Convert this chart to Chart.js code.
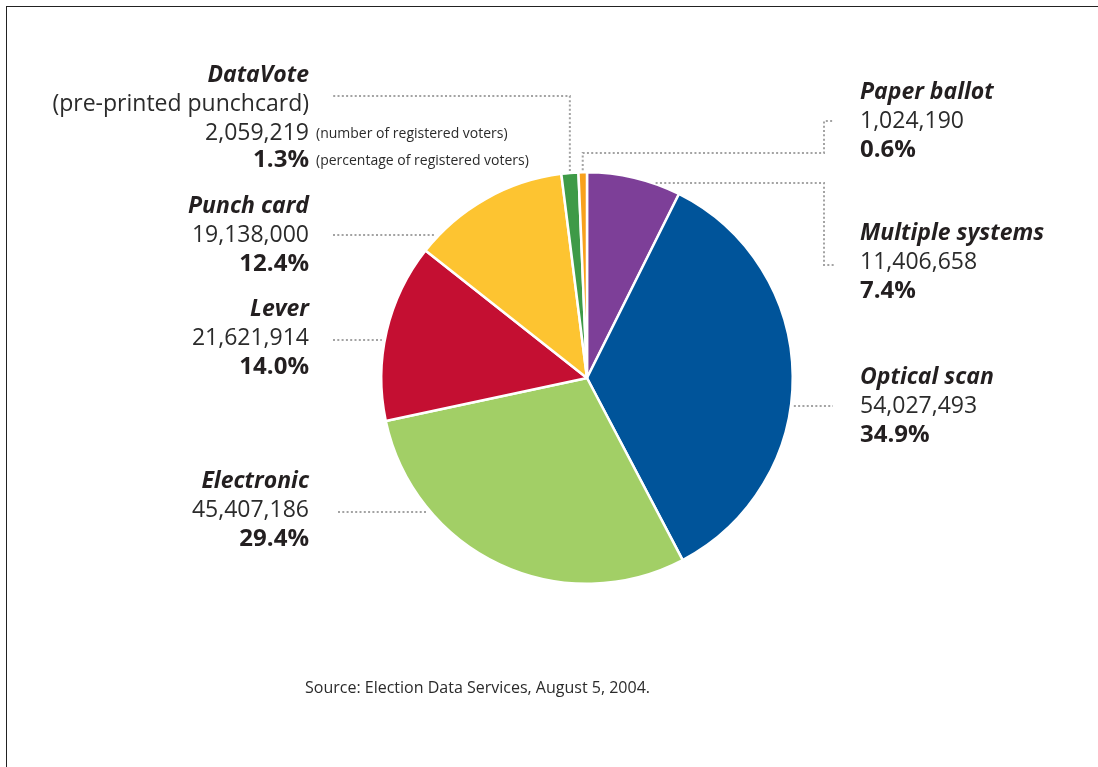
<!DOCTYPE html>
<html>
<head>
<meta charset="utf-8">
<script src="https://cdn.jsdelivr.net/npm/chart.js@4.4.0/dist/chart.umd.min.js"></script>
<style>
  html, body { margin: 0; padding: 0; background: #fff; }
  #wrap { position: relative; width: 1098px; height: 767px; overflow: hidden; }
  #c { position: absolute; left: 0; top: 0; }
  #frame { position: absolute; left: 6px; top: 6px; width: 1200px; height: 900px;
           border-top: 1.5px solid #222; border-left: 1.5px solid #222; pointer-events: none; }
</style>
</head>
<body>
<div id="wrap">
  <canvas id="c" width="1098" height="767"></canvas>
  <div id="frame"></div>
</div>
<script>
// ---- data (clockwise from 12 o'clock) ----
const categories = ['Multiple systems', 'Optical scan', 'Electronic', 'Lever', 'Punch card', 'DataVote', 'Paper ballot'];
const voters = [11406658, 54027493, 45407186, 21621914, 19138000, 2059219, 1024190];
const percentLabels = ['7.4%', '34.9%', '29.4%', '14.0%', '12.4%', '1.3%', '0.6%'];
const subtitles = ['', '', '', '', '', '(pre-printed punchcard)', ''];
const sourceNote = 'Source: Election Data Services, August 5, 2004.';
const voterNote = '(number of registered voters)';
const pctNote = '(percentage of registered voters)';

// ---- styles ----
const sliceColors = ['#7D3F98', '#00549A', '#A2CF66', '#C40F32', '#FDC431', '#3E9A47', '#F8A11C'];
const FONT = "'Open Sans', 'Noto Sans', sans-serif";
const TEXT = '#231f20';
const NUMTEXT = '#2b2b2b';
const LEAD = '#a3a3a3';

// label layout: side, anchor x, center y of first line
const labelLayout = {
  'Paper ballot':     { side: 'R', x: 860, y: 92 },
  'Multiple systems': { side: 'R', x: 860, y: 233 },
  'Optical scan':     { side: 'R', x: 860, y: 377 },
  'DataVote':         { side: 'L', x: 309, y: 75 },
  'Punch card':       { side: 'L', x: 309, y: 206 },
  'Lever':            { side: 'L', x: 309, y: 309 },
  'Electronic':       { side: 'L', x: 309, y: 481 }
};
const LINE = 29;

const labelsPlugin = {
  id: 'pieLabels',
  afterDraw(chart) {
    const ctx = chart.ctx;
    const meta = chart.getDatasetMeta(0);
    const a0 = meta.data[0];
    const cx = a0.x, cy = a0.y, r = a0.outerRadius;
    const edgeX = (y, sign) => cx + sign * Math.sqrt(Math.max(r * r - (y - cy) * (y - cy), 0));
    const edgeY = (x) => cy - Math.sqrt(Math.max(r * r - (x - cx) * (x - cx), 0));
    const midX = (i) => { const a = meta.data[i]; const m = (a.startAngle + a.endAngle) / 2; return cx + r * Math.cos(m); };

    // leaders
    ctx.save();
    ctx.strokeStyle = LEAD;
    ctx.lineWidth = 2;
    ctx.setLineDash([2, 2.3]);
    const path = (pts) => { ctx.beginPath(); ctx.moveTo(pts[0][0], pts[0][1]); for (let k = 1; k < pts.length; k++) ctx.lineTo(pts[k][0], pts[k][1]); ctx.stroke(); };

    categories.forEach((name, i) => {
      const L = labelLayout[name];
      const y2 = L.y + LINE; // number line
      if (name === 'Paper ballot') {
        const x = midX(i);
        path([[x, edgeY(x) - 2], [x, L.y + 2 * LINE + 3], [L.x - 36, L.y + 2 * LINE + 3], [L.x - 36, y2], [L.x - 26, y2]]);
      } else if (name === 'Multiple systems') {
        const yTop = L.y - 50;
        path([[edgeX(yTop, 1) + 3, yTop], [L.x - 36, yTop], [L.x - 36, y2 + 3], [L.x - 26, y2 + 3]]);
      } else if (name === 'Optical scan') {
        path([[edgeX(y2, 1) + 3, y2], [L.x - 27, y2]]);
      } else if (name === 'DataVote') {
        const x = midX(i);
        const yy = y2 - 8;
        path([[x, edgeY(x) - 2], [x, yy], [L.x + 24, yy]]);
      } else {
        const yy = y2 + (name === 'Punch card' ? 0 : 2);
        path([[L.x + 24 + (name === 'Electronic' ? 5 : 0), yy], [edgeX(yy, -1) - 3, yy]]);
      }
    });
    ctx.restore();

    // texts
    ctx.save();
    ctx.textBaseline = 'middle';
    categories.forEach((name, i) => {
      const L = labelLayout[name];
      ctx.textAlign = L.side === 'R' ? 'left' : 'right';
      let y = L.y;
      ctx.fillStyle = TEXT;
      ctx.font = `italic 700 23px ${FONT}`;
      ctx.fillText(name, L.x, y);
      ctx.fillStyle = NUMTEXT;
      if (subtitles[i]) {
        y += LINE;
        ctx.font = `400 23px ${FONT}`;
        ctx.fillText(subtitles[i], L.x, y);
      }
      y += LINE;
      ctx.font = `400 23px ${FONT}`;
      ctx.fillText(voters[i].toLocaleString('en-US'), L.x, y);
      if (name === 'DataVote') {
        ctx.save(); ctx.textAlign = 'left'; ctx.font = `400 14px ${FONT}`;
        ctx.fillText(voterNote, L.x + 7, y + 1); ctx.restore();
      }
      y += LINE - (name === 'DataVote' ? 2 : 0);
      ctx.fillStyle = TEXT;
      ctx.font = `700 24px ${FONT}`;
      ctx.fillText(percentLabels[i], L.x, y);
      if (name === 'DataVote') {
        ctx.save(); ctx.textAlign = 'left'; ctx.font = `400 14px ${FONT}`; ctx.fillStyle = NUMTEXT;
        ctx.fillText(pctNote, L.x + 7, y + 1); ctx.restore();
      }
    });
    // source
    ctx.textAlign = 'left';
    ctx.fillStyle = NUMTEXT;
    ctx.font = `400 16px ${FONT}`;
    ctx.fillText(sourceNote, 305, 688);
    ctx.restore();
  }
};

new Chart(document.getElementById('c'), {
  type: 'pie',
  data: {
    labels: categories,
    datasets: [{
      data: voters,
      backgroundColor: sliceColors,
      borderColor: '#ffffff',
      borderWidth: 2.5
    }]
  },
  options: {
    responsive: false,
    animation: false,
    layout: { padding: { left: 380, right: 304, top: 171, bottom: 182 } },
    plugins: { legend: { display: false }, tooltip: { enabled: false } }
  },
  plugins: [labelsPlugin]
});
</script>
</body>
</html>
